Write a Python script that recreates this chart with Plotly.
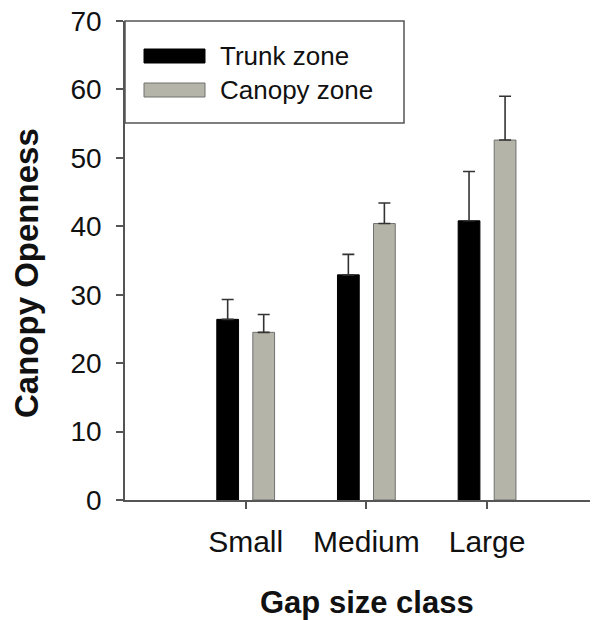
import plotly.graph_objects as go

# Data: mean canopy openness per gap size class with standard errors
gap_classes = ["Small", "Medium", "Large"]
trunk_mean = [26.4, 32.9, 40.8]
trunk_se = [2.9, 3.0, 7.2]
canopy_mean = [24.5, 40.4, 52.6]
canopy_se = [2.6, 3.0, 6.4]
y_ticks = [0, 10, 20, 30, 40, 50, 60, 70]

W, H = 595, 620
ML, MR, MT, MB = 125, 5, 21, 120
FONT = "Liberation Sans, Arial, sans-serif"
AXIS_GREY = "#555555"
CANOPY_FILL = "#b4b4a8"
CANOPY_EDGE = "#707070"
TEXT = "#111111"

fig = go.Figure()
fig.add_trace(go.Bar(
    name="Trunk zone", x=gap_classes, y=trunk_mean,
    marker=dict(color="black", line=dict(color="black", width=1)),
    error_y=dict(type="data", symmetric=False, array=trunk_se,
                 arrayminus=[0] * len(trunk_se),
                 color="#333333", thickness=1.6, width=6),
))
fig.add_trace(go.Bar(
    name="Canopy zone", x=gap_classes, y=canopy_mean,
    marker=dict(color=CANOPY_FILL, line=dict(color=CANOPY_EDGE, width=1)),
    error_y=dict(type="data", symmetric=False, array=canopy_se,
                 arrayminus=[0] * len(canopy_se),
                 color="#333333", thickness=1.6, width=6),
))

# pixel -> paper helpers for the boxed key and axis titles
pw = W - ML - MR
ph = H - MT - MB
def px(x):
    return (x - ML) / pw
def py(y):
    return (H - MB - y) / ph

shapes = [
    dict(type="rect", xref="paper", yref="paper",
         x0=px(125), x1=px(404), y0=py(123), y1=py(21),
         line=dict(color=AXIS_GREY, width=1.5), fillcolor="white", layer="above"),
    dict(type="rect", xref="paper", yref="paper",
         x0=px(144), x1=px(205), y0=py(63), y1=py(49),
         line=dict(color="black", width=1), fillcolor="black", layer="above"),
    dict(type="rect", xref="paper", yref="paper",
         x0=px(144), x1=px(205), y0=py(97), y1=py(83),
         line=dict(color=CANOPY_EDGE, width=1), fillcolor=CANOPY_FILL, layer="above"),
]
annotations = [
    dict(xref="paper", yref="paper", x=px(218), y=py(56), text="Trunk zone",
         showarrow=False, xanchor="left", yanchor="middle",
         font=dict(family=FONT, size=26, color=TEXT)),
    dict(xref="paper", yref="paper", x=px(218), y=py(90), text="Canopy zone",
         showarrow=False, xanchor="left", yanchor="middle",
         font=dict(family=FONT, size=26, color=TEXT)),
    # axis titles
    dict(xref="paper", yref="paper", x=px(367), y=py(602), text="<b>Gap size class</b>",
         showarrow=False, xanchor="center", yanchor="middle",
         font=dict(family=FONT, size=31, color=TEXT)),
    dict(xref="paper", yref="paper", x=px(26), y=py(273), text="<b>Canopy Openness</b>",
         showarrow=False, xanchor="center", yanchor="middle", textangle=-90,
         font=dict(family=FONT, size=33, color=TEXT)),
]

fig.update_layout(
    width=W, height=H,
    margin=dict(l=ML, r=MR, t=MT, b=MB),
    paper_bgcolor="white", plot_bgcolor="white",
    barmode="group", bargap=0.403, bargroupgap=0.396,
    showlegend=False,
    font=dict(family=FONT, color=TEXT),
    shapes=shapes, annotations=annotations,
)
fig.update_xaxes(
    type="category", range=[-1.0, 2.853],
    showline=True, linecolor=AXIS_GREY, linewidth=1.5,
    ticks="outside", ticklen=7, tickwidth=1.5, tickcolor=AXIS_GREY,
    tickfont=dict(family=FONT, size=30, color=TEXT),
    ticklabelstandoff=7,
    showgrid=False, zeroline=False,
)
fig.update_yaxes(
    range=[0, 70], tickvals=y_ticks,
    showline=True, linecolor=AXIS_GREY, linewidth=1.5,
    ticks="outside", ticklen=7, tickwidth=1.5, tickcolor=AXIS_GREY,
    tickfont=dict(family=FONT, size=28, color=TEXT),
    ticklabelstandoff=9,
    showgrid=False, zeroline=False,
)

fig.write_html("out.html")
